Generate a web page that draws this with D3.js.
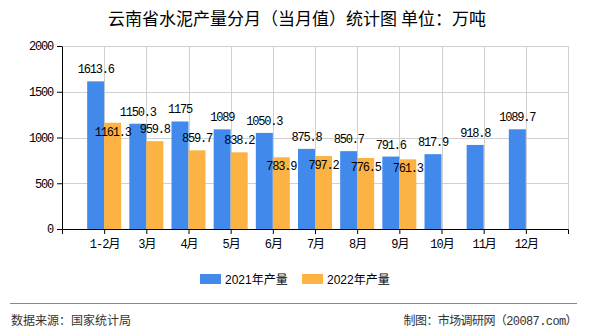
<!DOCTYPE html>
<html><head><meta charset="utf-8">
<script src="https://cdn.jsdelivr.net/npm/d3@7"></script>
<style>
body{margin:0;background:#fff;}
svg{display:block;}
</style></head>
<body><svg id="c" width="590" height="330"></svg>
<script>
const categories = ['1-2月','3月','4月','5月','6月','7月','8月','9月','10月','11月','12月'];
const values2021 = [1613.6,1150.3,1175,1089,1050.3,875.8,850.7,791.6,817.9,918.8,1089.7];
const values2022 = [1161.3,959.8,859.7,838.2,783.9,797.2,776.5,761.3,null,null,null];
const yTicks = [0,500,1000,1500,2000];
const seriesNames = ['2021年产量','2022年产量'];
const colors = ['#418AEC','#FDB343'];

const svg = d3.select('#c');
const L=62,R=568,T=46,B=229;
const monoFont = '"Liberation Mono","Noto Sans CJK SC",monospace';
const cjkFont = '"Noto Sans CJK SC","Noto Sans",sans-serif';

const x = d3.scalePoint().domain(categories).range([L,R]).padding(1);
const y = d3.scaleLinear().domain([0,2000]).range([B,T]);
const bw = 17;

// title
svg.append('text').attr('x',297).attr('y',25).attr('text-anchor','middle')
  .style('font-family',cjkFont).style('font-size','17px').attr('fill','#000')
  .text('云南省水泥产量分月（当月值）统计图 单位：万吨');

// grid
const g = svg.append('g');
g.selectAll('.hg').data(yTicks.filter(d=>d>0)).enter().append('line')
  .attr('x1',L).attr('x2',R).attr('y1',d=>Math.round(y(d))+0.5).attr('y2',d=>Math.round(y(d))+0.5)
  .attr('stroke','#d0d0d0').attr('stroke-width',1);
g.selectAll('.vg').data(categories.map(c=>x(c)).concat([R])).enter().append('line')
  .attr('x1',d=>Math.round(d)+0.5).attr('x2',d=>Math.round(d)+0.5).attr('y1',T).attr('y2',B)
  .attr('stroke','#d0d0d0').attr('stroke-width',1);

// bars
const bars = svg.append('g');
bars.selectAll('.b1').data(values2021).enter().append('rect')
  .attr('x',(d,i)=>x(categories[i])-bw).attr('width',bw)
  .attr('y',d=>y(d)).attr('height',d=>B-y(d)).attr('fill',colors[0]);
bars.selectAll('.b2').data(values2022.map((v,i)=>({v,i})).filter(d=>d.v!=null)).enter().append('rect')
  .attr('x',d=>x(categories[d.i])).attr('width',bw)
  .attr('y',d=>y(d.v)).attr('height',d=>B-y(d.v)).attr('fill',colors[1]);

// axes
const ax = svg.append('g').attr('transform',`translate(0,${B})`)
  .call(d3.axisBottom(x).tickSize(5).tickSizeOuter(5).tickPadding(5));
ax.selectAll('text').style('font-family',monoFont).style('font-size','12px').attr('fill','#000').style('letter-spacing','-1px');
ax.selectAll('path,line').attr('stroke','#000');
const ay = svg.append('g').attr('transform',`translate(${L},0)`)
  .call(d3.axisLeft(y).tickValues(yTicks).tickFormat(d3.format('d')).tickSize(5).tickSizeOuter(0).tickPadding(4));
ay.selectAll('text').style('font-family',monoFont).style('font-size','12px').attr('fill','#000').style('letter-spacing','-1.2px');
ay.selectAll('path,line').attr('stroke','#000');

// labels
const lab = svg.append('g').style('font-family',monoFont).style('font-size','12px').style('letter-spacing','-1.2px').attr('fill','#000');
const boxes = [];
values2021.forEach((v,i)=>{
  const cx = x(categories[i])-bw/2, by = y(v)-8;
  const t = lab.append('text').attr('x',cx).attr('y',by).attr('text-anchor','middle').text(v);
  const w = t.node().getComputedTextLength();
  boxes.push({x0:cx-w/2,x1:cx+w/2,y0:by-9,y1:by});
});
values2022.forEach((v,i)=>{
  if(v==null) return;
  const cx = x(categories[i])+bw/2;
  let by = y(v)-8;
  const t = lab.append('text').attr('x',cx).attr('y',by).attr('text-anchor','middle').text(v);
  const w = t.node().getComputedTextLength();
  const bx = {x0:cx-w/2,x1:cx+w/2,y0:by-9,y1:by};
  const pad=2;
  const hit = boxes.some(b=>bx.x0<b.x1+pad && bx.x1>b.x0-pad && bx.y0<b.y1+pad && bx.y1>b.y0-pad);
  if(hit){ by = y(v)+13; t.attr('y',by); }
});

// legend
const lg = svg.append('g');
const lx=[200,302];
seriesNames.forEach((n,i)=>{
  lg.append('rect').attr('x',lx[i]).attr('y',274).attr('width',21).attr('height',10).attr('fill',colors[i]);
  lg.append('text').attr('x',lx[i]+25).attr('y',284).style('font-family','"Liberation Sans","Noto Sans CJK SC",sans-serif')
    .style('font-size','12px').attr('fill','#000').text(n);
});

// footer
svg.append('line').attr('x1',10).attr('x2',577).attr('y1',303.5).attr('y2',303.5).attr('stroke','#888').attr('stroke-width',1);
svg.append('text').attr('x',11).attr('y',325).style('font-family',cjkFont).style('font-size','12px').attr('fill','#333').text('数据来源：国家统计局');
svg.append('text').attr('x',577).attr('y',325).attr('text-anchor','end').style('font-family',monoFont).style('font-size','12px').style('letter-spacing','-0.6px').attr('fill','#333').text('制图：市场调研网（20087.com）');
</script></body></html>
